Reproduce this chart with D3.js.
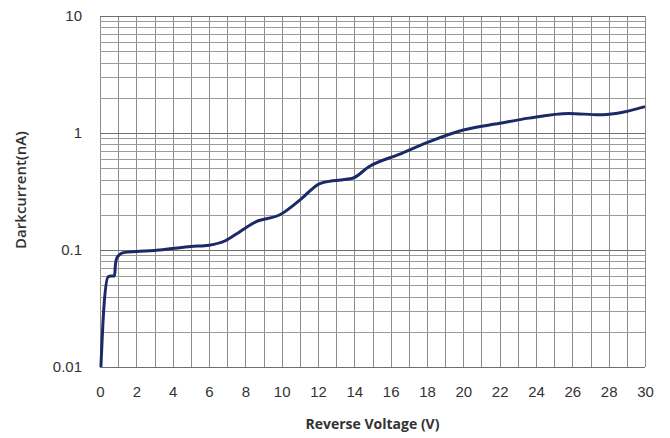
<!DOCTYPE html>
<html>
<head>
<meta charset="utf-8">
<script src="https://cdn.jsdelivr.net/npm/d3@7"></script>
<style>
  body { margin: 0; background: #fff; }
  svg { display: block; font-family: "Open Sans", "Liberation Sans", sans-serif; }
</style>
</head>
<body>
<svg width="670" height="438"></svg>
<script>
// data
const voltage = [0.05, 0.2, 0.45, 0.6, 0.8, 0.85, 0.95, 1.3, 2, 3, 4, 5, 6, 6.9, 7.6, 8.6, 9.9, 11, 12.1, 12.8, 13.9, 14.8, 16.5, 18.1, 20, 22, 23.6, 25.8, 27.5, 28.4, 30];
const current = [0.01, 0.03, 0.059, 0.06, 0.06, 0.075, 0.087, 0.095, 0.097, 0.099, 0.103, 0.107, 0.11, 0.12, 0.14, 0.175, 0.2, 0.267, 0.37, 0.39, 0.41, 0.515, 0.66, 0.84, 1.06, 1.21, 1.34, 1.47, 1.43, 1.47, 1.68];
const xTicks = d3.range(0, 31, 2);
const yTicks = [0.01, 0.1, 1, 10];

const margin = { top: 16, right: 25, bottom: 71, left: 100 };
const width = 670, height = 438;

const svg = d3.select('svg');

const x = d3.scaleLinear()
    .domain([0, 30])
    .range([margin.left, width - margin.right]);

const y = d3.scaleLog()
    .domain([0.01, 10])
    .range([height - margin.bottom, margin.top]);

// grid: every volt, and 1..9 of each decade
const minorY = [];
for (let d = 0.01; d < 10; d *= 10) {
    for (let k = 1; k < 10; k++) minorY.push(+(d * k).toPrecision(3));
}
minorY.push(10);

const grid = svg.append('g').attr('stroke', '#8c8c8c').attr('stroke-width', 1).attr('shape-rendering', 'crispEdges');

grid.selectAll('line.v')
    .data(d3.range(0, 31))
    .enter().append('line')
    .attr('x1', d => Math.round(x(d)) + 0.5).attr('x2', d => Math.round(x(d)) + 0.5)
    .attr('y1', y(10)).attr('y2', y(0.01));

grid.selectAll('line.h')
    .data(minorY)
    .enter().append('line')
    .attr('y1', d => Math.round(y(d)) + 0.5).attr('y2', d => Math.round(y(d)) + 0.5)
    .attr('x1', x(0)).attr('x2', x(30))
    .attr('stroke', d => yTicks.includes(d) ? '#6e6e6e' : '#9a9a9a');

// axes, labels only
const xAxis = d3.axisBottom(x).tickValues(xTicks).tickSize(0).tickPadding(19);
const yAxis = d3.axisLeft(y).tickValues(yTicks).tickSize(0).tickPadding(18)
    .tickFormat(d => String(d));

svg.append('g')
    .attr('transform', 'translate(0,' + y(0.01) + ')')
    .call(xAxis)
    .call(g => g.select('.domain').remove())
    .selectAll('text').attr('font-size', 15).attr('fill', '#333');

svg.append('g')
    .attr('transform', 'translate(' + x(0) + ',0)')
    .call(yAxis)
    .call(g => g.select('.domain').remove())
    .selectAll('text').attr('font-size', 15).attr('fill', '#333');

// curve
const line = d3.line()
    .x((d, i) => x(voltage[i]))
    .y(d => y(d))
    .curve(d3.curveMonotoneX);

svg.append('path')
    .datum(current)
    .attr('fill', 'none')
    .attr('stroke', '#1b2a66')
    .attr('stroke-width', 3)
    .attr('stroke-linejoin', 'round')
    .attr('d', line);

// titles
svg.append('text')
    .attr('x', (x(0) + x(30)) / 2)
    .attr('y', 429)
    .attr('text-anchor', 'middle')
    .attr('font-size', 14)
    .attr('font-weight', 'bold')
    .attr('fill', '#333')
    .text('Reverse Voltage (V)');

svg.append('text')
    .attr('transform', 'translate(26,' + 190 + ') rotate(-90)')
    .attr('text-anchor', 'middle')
    .attr('font-size', 15)
    .attr('font-weight', 600)
    .attr('fill', '#333')
    .text('Darkcurrent(nA)');
</script>
</body>
</html>
